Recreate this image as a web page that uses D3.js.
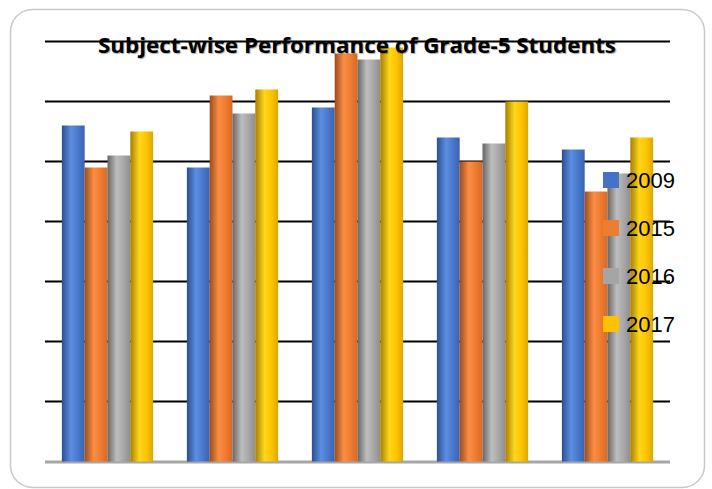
<!DOCTYPE html>
<html>
<head>
<meta charset="utf-8">
<script src="https://cdn.jsdelivr.net/npm/d3@7"></script>
<style>
  body { margin: 0; background: #fff; }
  svg { display: block; }
</style>
</head>
<body>
<svg id="chart" width="712" height="489"></svg>
<script>
// data (each gridline = 10)
var subjects = ["S1", "S2", "S3", "S4", "S5"];
var years = ["2009", "2015", "2016", "2017"];
var v2009 = [56, 49, 59, 54, 52];
var v2015 = [49, 61, 68, 50, 45];
var v2016 = [51, 58, 67, 53, 48];
var v2017 = [55, 62, 69, 60, 54];
var yTicks = [0, 10, 20, 30, 40, 50, 60, 70];

var series = [v2009, v2015, v2016, v2017];
var baseColors = ["#4472C4", "#ED7D31", "#A5A5A5", "#FFC000"];
var shades = [
  ["#2c4f8e", "#5b8ee2", "#4a78cc", "#3a63b0"],
  ["#9c4c1c", "#fb8e44", "#ee7b30", "#d86a24"],
  ["#666666", "#bdbdbd", "#a8a8a8", "#8e8e8e"],
  ["#a77e00", "#ffd71a", "#ffc400", "#dba700"]
];

var svg = d3.select("#chart");

// outer frame
svg.append("rect")
  .attr("x", 10.5).attr("y", 9.5)
  .attr("width", 694).attr("height", 478)
  .attr("rx", 22).attr("ry", 22)
  .attr("fill", "#fff")
  .attr("stroke", "#c9c9c9")
  .attr("stroke-width", 1.5);

var defs = svg.append("defs");
shades.forEach(function(s, i) {
  var g = defs.append("linearGradient")
    .attr("id", "grad" + i)
    .attr("x1", "0%").attr("x2", "100%").attr("y1", "0%").attr("y2", "0%");
  g.append("stop").attr("offset", "0%").attr("stop-color", s[0]);
  g.append("stop").attr("offset", "40%").attr("stop-color", s[1]);
  g.append("stop").attr("offset", "70%").attr("stop-color", s[2]);
  g.append("stop").attr("offset", "100%").attr("stop-color", s[3]);
});

var x0 = d3.scaleBand()
  .domain(subjects)
  .range([45, 670])
  .paddingInner(0.27)
  .paddingOuter(0.135);

var x1 = d3.scaleBand()
  .domain(years)
  .range([0, x0.bandwidth()]);

var y = d3.scaleLinear()
  .domain([0, 70])
  .range([461.5, 41.5]);

// gridlines
svg.append("g")
  .selectAll("line")
  .data(yTicks.slice(1))
  .enter().append("line")
  .attr("x1", 45).attr("x2", 670)
  .attr("y1", function(d) { return y(d); })
  .attr("y2", function(d) { return y(d); })
  .attr("stroke", "#000")
  .attr("stroke-width", 2);

// baseline
svg.append("line")
  .attr("x1", 45).attr("x2", 670)
  .attr("y1", y(0) + 0.5).attr("y2", y(0) + 0.5)
  .attr("stroke", "#a6a6a6")
  .attr("stroke-width", 3);

// bars
var groups = svg.append("g").selectAll("g")
  .data(subjects)
  .enter().append("g")
  .attr("transform", function(d) { return "translate(" + x0(d) + ",0)"; });

groups.selectAll("rect")
  .data(function(d, i) {
    return years.map(function(yr, j) { return { year: yr, k: j, value: series[j][i] }; });
  })
  .enter().append("rect")
  .attr("x", function(d) { return x1(d.year); })
  .attr("width", x1.bandwidth())
  .attr("y", function(d) { return y(d.value); })
  .attr("height", function(d) { return y(0) - y(d.value); })
  .attr("fill", function(d) { return "url(#grad" + d.k + ")"; });

// title
svg.append("text")
  .attr("x", 357)
  .attr("y", 53)
  .attr("text-anchor", "middle")
  .attr("font-family", "'Open Sans', sans-serif")
  .attr("font-weight", "bold")
  .attr("font-size", 22)
  .attr("textLength", 518)
  .attr("lengthAdjust", "spacingAndGlyphs")
  .attr("fill", "#000")
  .style("text-shadow", "1px 1px 1px rgba(0,0,0,0.35)")
  .text("Subject-wise Performance of Grade-5 Students");

// legend
var legend = svg.append("g").selectAll("g")
  .data(years)
  .enter().append("g")
  .attr("transform", function(d, i) { return "translate(603," + (172 + i * 48) + ")"; });

legend.append("rect")
  .attr("width", 16).attr("height", 16)
  .attr("fill", function(d, i) { return baseColors[i]; });

legend.append("text")
  .attr("x", 23)
  .attr("y", 16)
  .attr("font-family", "'Liberation Sans', Arial, sans-serif")
  .attr("font-size", 22)
  .attr("fill", "#000")
  .text(function(d) { return d; });
</script>
</body>
</html>
